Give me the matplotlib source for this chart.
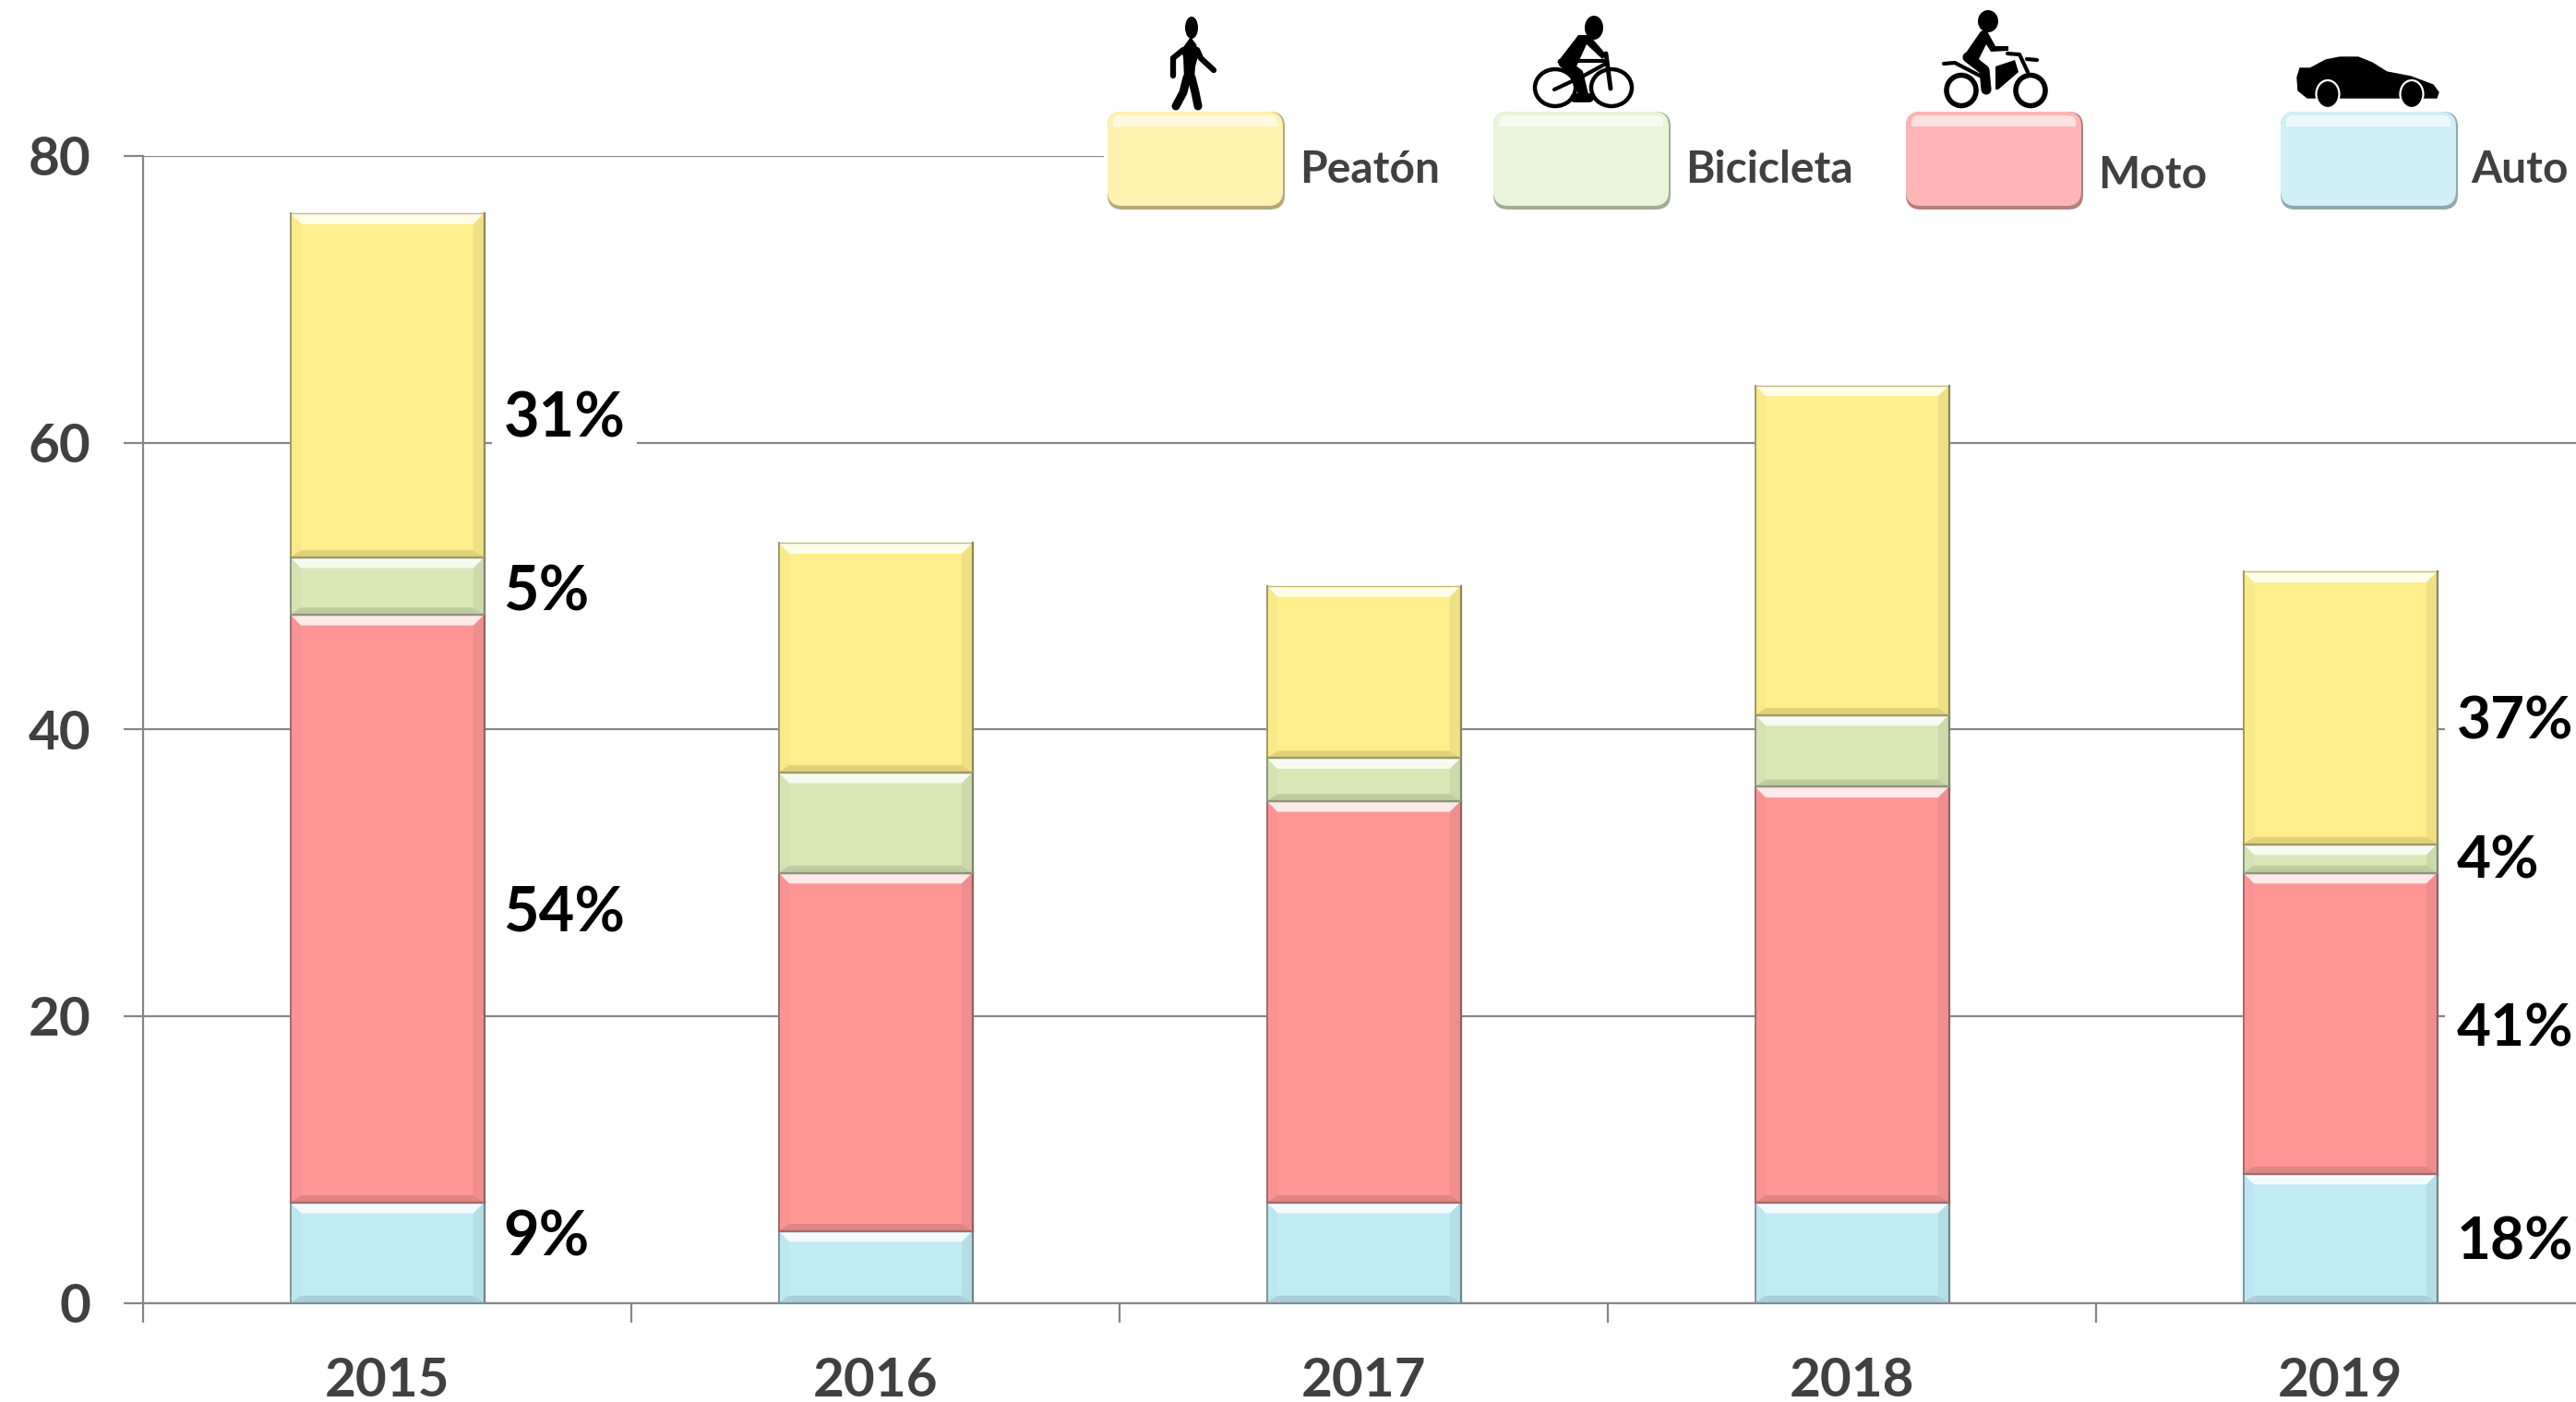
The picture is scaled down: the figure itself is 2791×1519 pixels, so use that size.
# Gestapelde staven met bevel effect en legenda met iconen
import matplotlib
matplotlib.use("Agg")
import matplotlib.pyplot as plt
from matplotlib.patches import Ellipse, FancyBboxPatch, Polygon, Rectangle
from matplotlib.colors import to_rgb
from matplotlib.transforms import ScaledTranslation
import numpy as np

plt.rcParams['font.family'] = ['Lato', 'DejaVu Sans']

# Data
years = ['2015', '2016', '2017', '2018', '2019']
auto = [7, 5, 7, 7, 9]
moto = [41, 25, 28, 29, 21]
bicicleta = [4, 7, 3, 5, 2]
peaton = [24, 16, 12, 23, 19]
y_ticks = [0, 20, 40, 60, 80]

series_names = ['Auto', 'Moto', 'Bicicleta', 'Peatón']
series_colors = ['#C1EBF5', '#FF9696', '#D9E8B6', '#FFEE8C']
legend_colors = ['#D0EFF7', '#FFB5B5', '#E9F4D9', '#FFF2B0']

labels_2015 = ['31%', '5%', '54%', '9%']
labels_2019 = ['37%', '4%', '41%', '18%']
label_y_2015 = [61.6, 49.5, 27.1, 4.5]
label_y_2019 = [40.5, 30.8, 19.1, 4.2]

W, H = 2791, 1519
GRAY = '#868686'
TEXT = '#404040'
CAT_W = 529


def mix(color, other, t):
    c = np.array(to_rgb(color))
    o = np.array(to_rgb(other))
    return tuple(c * (1 - t) + o * t)


# Bevel randen op een staaf tekenen
def bevel(ax, bar, color):
    x0, y0 = bar.get_x(), bar.get_y()
    x1, y1 = x0 + bar.get_width(), y0 + bar.get_height()
    dx, dtop, dbot = 0.022, 0.75, 0.5
    top = [(x0, y1), (x1, y1), (x1 - dx, y1 - dtop), (x0 + dx, y1 - dtop)]
    bottom = [(x0, y0), (x1, y0), (x1 - dx, y0 + dbot), (x0 + dx, y0 + dbot)]
    left = [(x0, y0), (x0, y1), (x0 + dx, y1 - dtop), (x0 + dx, y0 + dbot)]
    right = [(x1, y0), (x1, y1), (x1 - dx, y1 - dtop), (x1 - dx, y0 + dbot)]
    ax.add_patch(Polygon(left, fc=mix(color, 'black', 0.02), ec='none', zorder=3.1))
    ax.add_patch(Polygon(right, fc=mix(color, 'black', 0.06), ec='none', zorder=3.1))
    ax.add_patch(Polygon(bottom, fc=mix(color, 'black', 0.12), ec='none', zorder=3.2))
    ax.add_patch(Polygon(top, fc=mix(color, 'white', 0.8), ec='none', zorder=3.2))
    # donkere rand langs zijkanten en onderkant, lichte rand boven
    ax.plot([x0, x1], [y1, y1], color=mix(color, '#404040', 0.3), lw=1.0, zorder=3.25)
    ax.plot([x0, x0], [y0, y1], color=mix(color, '#404040', 0.5), lw=1.4, zorder=3.3)
    ax.plot([x1, x1], [y0, y1], color=mix(color, '#404040', 0.6), lw=1.6, zorder=3.3)
    ax.plot([x0, x1], [y0, y0], color=mix(color, '#404040', 0.5), lw=1.6, zorder=3.3)


def legend_box(ov, x0, x1, y0, y1, color):
    w, h = x1 - x0, y1 - y0
    r = 16
    dark = mix(color, 'black', 0.3)
    ov.add_patch(FancyBboxPatch((x0 + r, y0 + r), w - 2 * r, h - 2 * r,
                                boxstyle=f'round,pad={r},rounding_size={r}',
                                fc=dark, ec='none', zorder=2))
    ov.add_patch(FancyBboxPatch((x0 + r, y0 + r), w - 2 * r - 2, h - 2 * r - 4,
                                boxstyle=f'round,pad={r},rounding_size={r}',
                                fc=color, ec='none', zorder=2.1))
    # lichte streep bovenaan
    ov.add_patch(FancyBboxPatch((x0 + r, y0 + r - 2), w - 2 * r - 2, 0,
                                boxstyle=f'round,pad={r - 6},rounding_size={r - 8}',
                                fc=mix(color, 'white', 0.6), ec='none', zorder=2.15))
    ov.add_patch(Rectangle((x0 + 6, y0 + 16), w - 12, h - 26, fc=color, ec='none', zorder=2.2))


def limb(ov, pts, lw):
    xs, ys = zip(*pts)
    ov.plot(xs, ys, color='black', lw=lw, solid_capstyle='round',
            solid_joinstyle='round', zorder=5)


def icon_peaton(ov):
    ov.add_patch(Ellipse((1291, 30), 14, 24, fc='black', zorder=5))
    ov.add_patch(Polygon([(1290, 40), (1296, 48), (1299, 58), (1295, 72), (1294, 86),
                          (1283, 86), (1282, 62), (1280, 54)], fc='black', zorder=5))
    limb(ov, [(1282, 54), (1271, 63), (1271, 82)], 4.5)
    limb(ov, [(1297, 54), (1301, 63), (1315, 76)], 4.5)
    limb(ov, [(1286, 84), (1282, 100), (1274, 115)], 6.5)
    limb(ov, [(1291, 84), (1295, 100), (1298, 115)], 6.5)


def icon_bici(ov):
    for cx in (1685, 1746):
        ov.add_patch(Ellipse((cx, 95), 44, 40, fc='none', ec='black', lw=3.2, zorder=5))
    ov.add_patch(Ellipse((1727, 30), 20, 26, fc='black', zorder=5))
    ov.add_patch(Polygon([(1710, 38), (1722, 38), (1741, 60), (1736, 64), (1719, 48),
                          (1708, 72), (1687, 68)], fc='black', zorder=5))
    limb(ov, [(1694, 68), (1710, 80), (1716, 105)], 8)
    limb(ov, [(1740, 58), (1745, 96)], 3.5)
    limb(ov, [(1690, 66), (1738, 66)], 3)
    limb(ov, [(1684, 97), (1716, 82), (1738, 70)], 3)
    limb(ov, [(1706, 106), (1722, 106)], 7)


def icon_moto(ov):
    for cx in (2125, 2200):
        ov.add_patch(Ellipse((cx, 98), 32, 33, fc='none', ec='black', lw=4, zorder=5))
    ov.add_patch(Ellipse((2154, 23), 22, 24, fc='black', zorder=5))
    ov.add_patch(Polygon([(2146, 34), (2152, 32), (2162, 50), (2176, 50), (2176, 55), (2157, 56),
                          (2152, 48), (2144, 64), (2154, 75), (2128, 60)], fc='black', zorder=5))
    limb(ov, [(2132, 62), (2150, 76), (2152, 97)], 8)
    ov.add_patch(Polygon([(2162, 72), (2183, 65), (2187, 78), (2165, 97), (2162, 97)],
                         fc='black', zorder=5))
    limb(ov, [(2106, 69), (2118, 68), (2145, 82)], 3)
    limb(ov, [(2175, 58), (2188, 59), (2197, 78)], 3)
    limb(ov, [(2196, 64), (2207, 65)], 3)


def icon_auto(ov):
    body = [(2492, 74), (2503, 74), (2520, 65), (2535, 62), (2555, 62), (2570, 68),
            (2586, 78), (2612, 83), (2636, 92), (2642, 100), (2640, 106),
            (2500, 106), (2490, 98), (2489, 84)]
    ov.add_patch(Polygon(body, fc='black', ec='black', lw=1, zorder=5))
    for cx in (2522, 2613):
        ov.add_patch(Ellipse((cx, 102), 25, 30, fc='black', ec='white', lw=1.6, zorder=5.1))


def main():
    fig = plt.figure(figsize=(W / 100, H / 100), dpi=100, facecolor='white')

    # Hoofdas, afgesneden aan de rechterrand zoals in het origineel
    left, right, top, bottom = 155, 2791, 169, 1411.5
    ax = fig.add_axes([left / W, 1 - bottom / H, (right - left) / W, (bottom - top) / H])

    for s in ['top', 'right']:
        ax.spines[s].set_visible(False)
    for s in ['left', 'bottom']:
        ax.spines[s].set_color(GRAY)
        ax.spines[s].set_linewidth(1.6)

    ax.set_yticks(y_ticks)
    ax.set_yticklabels([str(v) for v in y_ticks], fontsize=42, fontweight='bold', color=TEXT,
                       va='center_baseline')
    # labels iets omhoog, 3 pixels
    for lab in ax.get_yticklabels():
        lab.set_transform(lab.get_transform() + ScaledTranslation(0, 3 / 100, fig.dpi_scale_trans))
    ax.set_xticks(np.arange(-0.5, 5, 1))
    ax.set_xticklabels([])
    ax.set_xticks(np.arange(len(years)), minor=True)
    ax.set_xticklabels(years, minor=True, fontsize=42, fontweight='bold', color=TEXT)
    ax.tick_params(axis='x', which='major', length=15, width=1.6, color=GRAY)
    ax.tick_params(axis='x', which='minor', length=0, pad=42)
    ax.tick_params(axis='y', length=15, width=1.6, color=GRAY, pad=26)
    ax.yaxis.grid(True, color=GRAY, lw=1.6, zorder=0)
    ax.set_axisbelow(True)

    # Limieten pas na de ticks zetten, set_xticks rekt ze anders op
    ax.set_xlim(-0.5, -0.5 + (right - left) / CAT_W)
    ax.set_ylim(0, 80)

    # Staven
    x = np.arange(len(years))
    onder = np.zeros(len(years))
    bar_w = 210 / CAT_W
    for vals, kleur in zip([auto, moto, bicicleta, peaton], series_colors):
        bars = ax.bar(x, vals, width=bar_w, bottom=onder, color=kleur, edgecolor='none', zorder=3)
        for b in bars:
            bevel(ax, b, kleur)
        onder = onder + np.array(vals)

    # Percentages naast 2015 en 2019
    off = bar_w / 2 + 21 / CAT_W
    for lab, yy in zip(labels_2015, label_y_2015):
        ax.text(0 + off, yy, lab, fontsize=48, fontweight='bold', color='black',
                va='center', ha='left', zorder=4, clip_on=False,
                bbox=dict(fc='white', ec='none', pad=9))
    for lab, yy in zip(labels_2019, label_y_2019):
        ax.text(4 + off, yy, lab, fontsize=46, fontweight='bold', color='black',
                va='center', ha='left', zorder=4, clip_on=False,
                bbox=dict(fc='white', ec='none', pad=9))

    # Overlay in pixels voor legenda en iconen
    ov = fig.add_axes([0, 0, 1, 1], zorder=10)
    ov.set_xlim(0, W)
    ov.set_ylim(H, 0)
    ov.axis('off')
    ov.add_patch(Rectangle((1196, 150), W - 1196, 90, fc='white', ec='none', zorder=1))

    boxes = {'Peatón': (1200, 1392, 1408, 184), 'Bicicleta': (1618, 1810, 1826, 184),
             'Moto': (2065, 2257, 2273, 190), 'Auto': (2471, 2663, 2677, 184)}
    for naam, kleur in zip(series_names, legend_colors):
        x0, x1, tx, ty = boxes[naam]
        legend_box(ov, x0, x1, 121, 227, kleur)
        ov.text(tx, ty, naam, fontsize=34.5, fontweight='bold', color=TEXT, va='center', ha='left')

    icon_peaton(ov)
    icon_bici(ov)
    icon_moto(ov)
    icon_auto(ov)

    fig.savefig('out.png', dpi=100)


if __name__ == "__main__":
    main()
